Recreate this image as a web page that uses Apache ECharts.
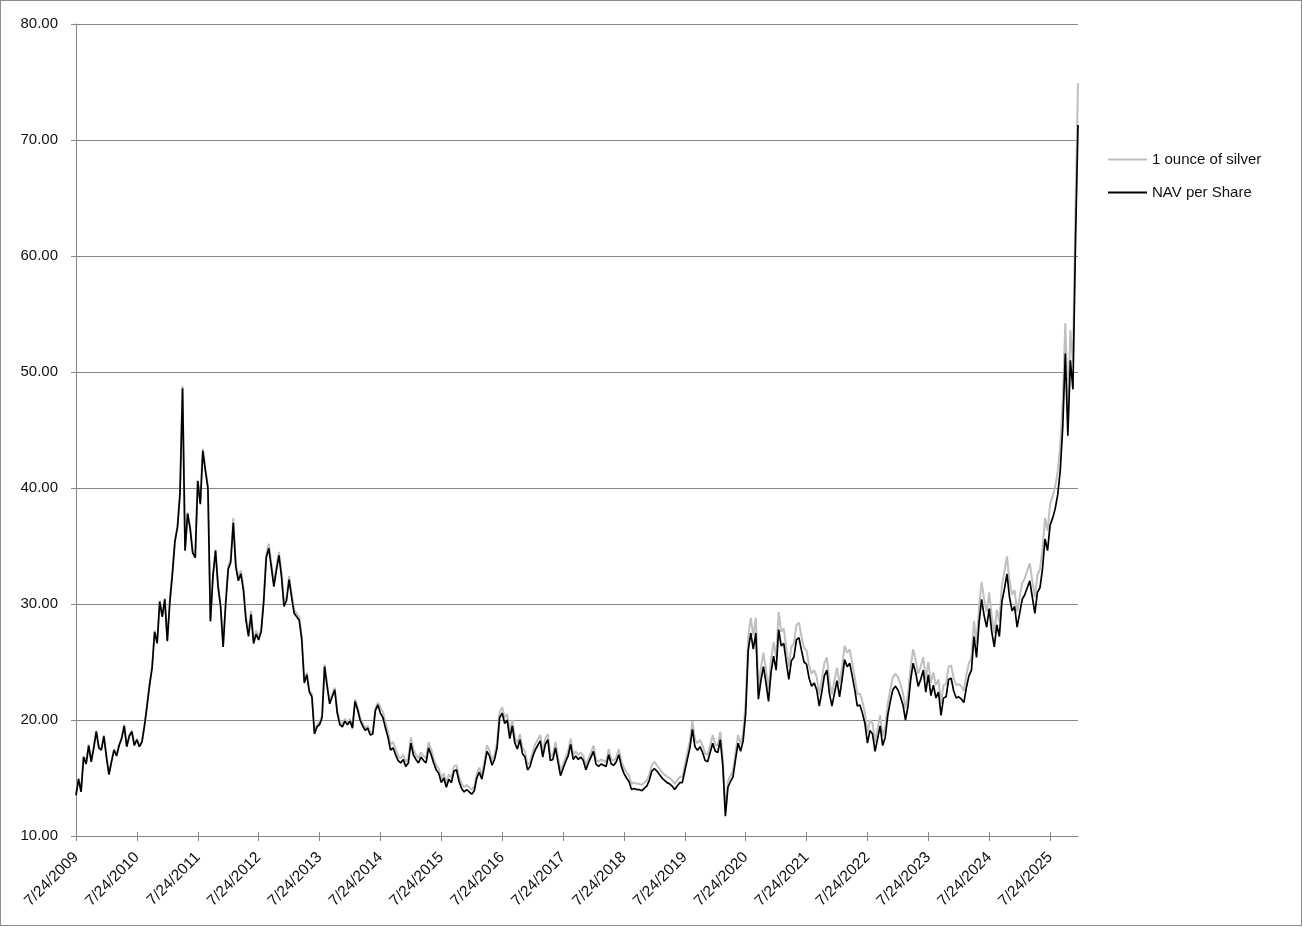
<!DOCTYPE html>
<html>
<head>
<meta charset="utf-8">
<script src="https://cdn.jsdelivr.net/npm/echarts/dist/echarts.min.js"></script>
<style>
    html, body { margin: 0; padding: 0; background: #fff; }
    #chart { position: absolute; left: 0; top: 0; width: 1303px; height: 927px; }
    #frame { position: absolute; left: 0; top: 0; width: 1300px; height: 924px; border: 1px solid #8c8c8c; pointer-events: none; }
</style>
</head>
<body>
<div id="chart"></div>
<div id="frame"></div>
<script>
    // one value every half month, starting 7/24/2009 (24 steps = 1 year)
    var tickYears = [2009, 2010, 2011, 2012, 2013, 2014, 2015, 2016, 2017, 2018, 2019, 2020, 2021, 2022, 2023, 2024, 2025]
    var seriesNames = ['1 ounce of silver', 'NAV per Share']

    var silver = [
        13.6, 15.0, 13.9, 16.9, 16.3, 17.9, 16.5, 17.7, 19.1, 17.7,
        17.5, 18.7, 16.9, 15.4, 16.5, 17.5, 17.0, 17.9, 18.5, 19.6,
        17.8, 18.7, 19.1, 17.9, 18.4, 17.8, 18.2, 19.6, 21.3, 23.1,
        24.6, 27.7, 26.7, 30.3, 29.0, 30.5, 26.9, 30.3, 32.7, 35.5,
        36.7, 39.6, 48.8, 34.7, 37.9, 36.6, 34.5, 34.1, 40.7, 38.8,
        43.4, 41.7, 40.2, 28.6, 32.5, 34.7, 31.6, 29.9, 26.4, 30.1,
        33.3, 33.9, 37.4, 33.5, 32.3, 32.9, 31.5, 28.9, 27.5, 29.4,
        26.9, 27.7, 27.2, 27.9, 30.5, 34.3, 35.2, 33.5, 31.8, 33.2,
        34.5, 32.7, 30.1, 30.6, 32.4, 30.9, 29.5, 29.2, 28.9, 27.2,
        23.4, 24.1, 22.6, 22.2, 19.0, 19.6, 19.8, 20.4, 24.8, 23.1,
        21.6, 22.2, 22.8, 20.8, 19.8, 19.6, 20.1, 19.8, 20.1, 19.5,
        21.8, 21.1, 20.2, 19.7, 19.3, 19.5, 18.9, 19.0, 21.0, 21.5,
        21.1, 20.7, 19.8, 19.0, 17.9, 18.1, 17.5, 16.9, 16.7, 17.0,
        16.4, 16.7, 18.5, 17.5, 17.0, 16.7, 17.2, 16.9, 16.7, 18.1,
        17.5, 16.7, 16.1, 15.8, 15.0, 15.4, 14.6, 15.3, 15.0, 16.0,
        16.1, 15.1, 14.5, 14.2, 14.4, 14.2, 14.0, 14.3, 15.4, 15.9,
        15.3, 16.4, 17.8, 17.4, 16.5, 17.0, 18.1, 20.7, 21.1, 20.2,
        20.5, 18.9, 20.0, 18.5, 18.0, 18.8, 17.6, 17.3, 16.1, 16.4,
        17.2, 17.9, 18.3, 18.7, 17.2, 18.4, 18.8, 16.9, 17.0, 18.1,
        16.8, 15.6, 16.2, 16.8, 17.3, 18.4, 17.0, 17.3, 17.0, 17.2,
        16.9, 16.1, 16.7, 17.2, 17.8, 16.6, 16.4, 16.6, 16.5, 16.4,
        17.5, 16.6, 16.5, 16.8, 17.5, 16.4, 15.9, 15.5, 15.2, 14.5,
        14.6, 14.5, 14.5, 14.4, 14.6, 14.8, 15.3, 16.1, 16.4, 16.1,
        15.8, 15.5, 15.3, 15.1, 15.0, 14.8, 14.5, 14.8, 15.1, 15.1,
        16.1, 17.2, 18.2, 19.9, 18.3, 18.0, 18.3, 17.8, 17.1, 17.0,
        17.8, 18.7, 17.9, 17.8, 19.0, 16.6, 12.1, 14.7, 15.2, 15.6,
        17.2, 18.7, 17.9, 18.9, 21.6, 27.2, 28.8, 27.3, 28.8, 22.8,
        24.5, 25.8, 24.3, 22.6, 25.2, 26.7, 25.4, 29.3, 27.6, 27.9,
        26.2, 24.6, 26.3, 26.6, 28.2, 28.4, 27.2, 26.2, 26.0, 24.7,
        24.0, 24.3, 23.7, 22.2, 23.5, 24.9, 25.4, 23.4, 22.2, 23.4,
        24.5, 23.1, 24.6, 26.4, 25.8, 26.1, 24.9, 23.7, 22.2, 22.3,
        21.6, 20.6, 18.9, 20.0, 19.7, 18.1, 19.3, 20.4, 18.6, 19.4,
        21.4, 22.6, 23.7, 24.0, 23.7, 23.1, 22.3, 21.0, 22.2, 24.5,
        26.1, 25.2, 24.0, 24.6, 25.4, 23.5, 25.0, 23.2, 24.1, 23.0,
        23.5, 21.4, 23.0, 23.1, 24.6, 24.7, 23.6, 23.0, 23.1, 22.9,
        22.5, 23.9, 24.9, 25.4, 28.5, 26.6, 29.8, 31.9, 30.4, 29.3,
        31.0, 28.9, 27.5, 29.5, 28.5, 31.6, 32.8, 34.1, 32.0, 30.8,
        31.2, 29.3, 30.6, 31.8, 32.2, 32.9, 33.5, 32.0, 30.6, 32.5,
        33.0, 34.7, 37.4, 36.3, 38.6, 39.3, 40.1, 41.4, 43.6, 47.6,
        54.2, 46.7, 53.6, 50.9, 64.1, 74.9
    ]

    var nav = [
        13.5, 14.9, 13.8, 16.8, 16.2, 17.8, 16.4, 17.6, 19.0, 17.6,
        17.4, 18.6, 16.8, 15.3, 16.4, 17.4, 16.9, 17.8, 18.4, 19.5,
        17.7, 18.6, 19.0, 17.8, 18.3, 17.7, 18.1, 19.5, 21.2, 23.0,
        24.5, 27.6, 26.6, 30.2, 28.9, 30.4, 26.8, 30.2, 32.6, 35.4,
        36.6, 39.5, 48.6, 34.6, 37.8, 36.5, 34.4, 34.0, 40.6, 38.6,
        43.2, 41.5, 40.0, 28.5, 32.4, 34.6, 31.5, 29.8, 26.3, 30.0,
        33.0, 33.6, 37.0, 33.2, 32.0, 32.6, 31.2, 28.6, 27.2, 29.1,
        26.6, 27.4, 26.9, 27.6, 30.2, 34.0, 34.8, 33.2, 31.5, 32.9,
        34.2, 32.4, 29.8, 30.3, 32.1, 30.6, 29.2, 28.9, 28.6, 26.9,
        23.2, 23.9, 22.4, 22.0, 18.8, 19.4, 19.6, 20.2, 24.6, 22.9,
        21.4, 22.0, 22.6, 20.6, 19.6, 19.4, 19.9, 19.6, 19.9, 19.3,
        21.6, 20.9, 20.0, 19.5, 19.1, 19.3, 18.7, 18.8, 20.8, 21.3,
        20.6, 20.2, 19.3, 18.5, 17.4, 17.6, 17.0, 16.5, 16.3, 16.6,
        16.0, 16.3, 18.0, 17.0, 16.6, 16.3, 16.8, 16.5, 16.3, 17.6,
        17.0, 16.3, 15.7, 15.4, 14.6, 15.0, 14.2, 14.9, 14.6, 15.6,
        15.7, 14.7, 14.1, 13.8, 14.0, 13.8, 13.6, 13.9, 15.0, 15.5,
        14.9, 16.0, 17.3, 16.9, 16.1, 16.6, 17.6, 20.2, 20.6, 19.7,
        20.0, 18.4, 19.5, 18.0, 17.5, 18.3, 17.1, 16.8, 15.7, 16.0,
        16.8, 17.4, 17.8, 18.2, 16.8, 17.9, 18.3, 16.5, 16.6, 17.6,
        16.4, 15.2, 15.8, 16.4, 16.9, 17.9, 16.6, 16.9, 16.6, 16.8,
        16.5, 15.7, 16.3, 16.8, 17.3, 16.2, 16.0, 16.2, 16.1, 16.0,
        17.0, 16.2, 16.1, 16.4, 17.0, 16.0, 15.4, 15.0, 14.7, 14.0,
        14.1, 14.0, 14.0, 13.9, 14.1, 14.3, 14.8, 15.6, 15.8, 15.6,
        15.3, 15.0, 14.8, 14.6, 14.5, 14.3, 14.0, 14.3, 14.6, 14.6,
        15.6, 16.6, 17.6, 19.2, 17.7, 17.4, 17.7, 17.2, 16.5, 16.4,
        17.2, 18.0, 17.3, 17.2, 18.3, 16.0, 11.7, 14.2, 14.7, 15.1,
        16.6, 18.0, 17.3, 18.2, 20.6, 26.0, 27.5, 26.1, 27.5, 21.8,
        23.4, 24.6, 23.2, 21.6, 24.1, 25.5, 24.3, 27.8, 26.4, 26.6,
        25.0, 23.5, 25.1, 25.4, 26.9, 27.1, 26.0, 25.0, 24.8, 23.6,
        22.9, 23.2, 22.6, 21.2, 22.4, 23.8, 24.3, 22.3, 21.2, 22.3,
        23.4, 22.0, 23.5, 25.2, 24.6, 24.9, 23.8, 22.6, 21.2, 21.3,
        20.6, 19.7, 18.0, 19.1, 18.8, 17.3, 18.4, 19.5, 17.8, 18.5,
        20.4, 21.6, 22.6, 22.9, 22.6, 22.0, 21.3, 20.0, 21.2, 23.4,
        24.9, 24.1, 22.9, 23.5, 24.3, 22.4, 23.9, 22.1, 23.0, 21.9,
        22.4, 20.4, 21.9, 22.0, 23.5, 23.6, 22.5, 21.9, 22.0, 21.8,
        21.5, 22.8, 23.8, 24.3, 27.2, 25.4, 28.4, 30.4, 29.0, 28.0,
        29.6, 27.6, 26.3, 28.2, 27.2, 30.2, 31.3, 32.6, 30.6, 29.4,
        29.8, 28.0, 29.2, 30.4, 30.8, 31.4, 32.0, 30.6, 29.2, 31.0,
        31.4, 33.0, 35.6, 34.6, 36.8, 37.4, 38.2, 39.4, 41.5, 45.3,
        51.6, 44.5, 51.0, 48.5, 61.0, 71.3
    ]

    function toPairs (arr) {
        return arr.map(function (v, i) { return [i, v] })
    }

    var tickPos = tickYears.map(function (y) { return (y - 2009) * 24 })
    var lastStep = silver.length - 1
    var font = 'Liberation Sans'
    var gray = '#868686'

    var myChart = echarts.init(document.getElementById('chart'))
    myChart.setOption({
        animation: false,
        grid: { left: 76, right: 225, top: 24, bottom: 91 },
        legend: {
            orient: 'vertical',
            left: 1108,
            top: 152,
            padding: 0,
            icon: 'rect',
            itemWidth: 39,
            itemHeight: 2,
            itemGap: 18,
            textStyle: { fontFamily: font, fontSize: 15, color: '#111' },
            data: seriesNames
        },
        xAxis: [{
            type: 'value',
            min: 0,
            max: lastStep,
            interval: 24,
            position: 'bottom',
            axisLine: { lineStyle: { color: gray, width: 1 } },
            axisTick: { customValues: tickPos, length: 5, lineStyle: { color: gray } },
            axisLabel: {
                customValues: tickPos,
                rotate: 45,
                margin: 19,
                fontFamily: font,
                fontSize: 15.5,
                color: '#111',
                formatter: function (v) {
                    return v % 24 === 0 ? '7/24/' + (2009 + v / 24) : ''
                }
            },
            splitLine: { show: false }
        }, {
            // inner half of the crossing tick marks
            type: 'value',
            min: 0,
            max: lastStep,
            interval: 24,
            position: 'bottom',
            axisLine: { show: false },
            axisTick: { inside: true, customValues: tickPos, length: 4, lineStyle: { color: gray } },
            axisLabel: { show: false },
            splitLine: { show: false }
        }],
        yAxis: {
            type: 'value',
            min: 10,
            max: 80,
            interval: 10,
            axisLine: { show: true, lineStyle: { color: gray } },
            axisTick: { show: true, length: 5, lineStyle: { color: gray } },
            axisLabel: {
                margin: 18,
                fontFamily: font,
                fontSize: 15,
                color: '#111',
                formatter: function (v) { return v.toFixed(2) }
            },
            splitLine: { lineStyle: { color: gray, width: 1 } }
        },
        series: [{
            name: seriesNames[0],
            type: 'line',
            data: toPairs(silver),
            symbol: 'none',
            lineStyle: { color: '#bfbfbf', width: 2 },
            itemStyle: { color: '#bfbfbf' }
        }, {
            name: seriesNames[1],
            type: 'line',
            data: toPairs(nav),
            symbol: 'none',
            lineStyle: { color: '#000', width: 1.7 },
            itemStyle: { color: '#000' }
        }]
    })
</script>
</body>
</html>
